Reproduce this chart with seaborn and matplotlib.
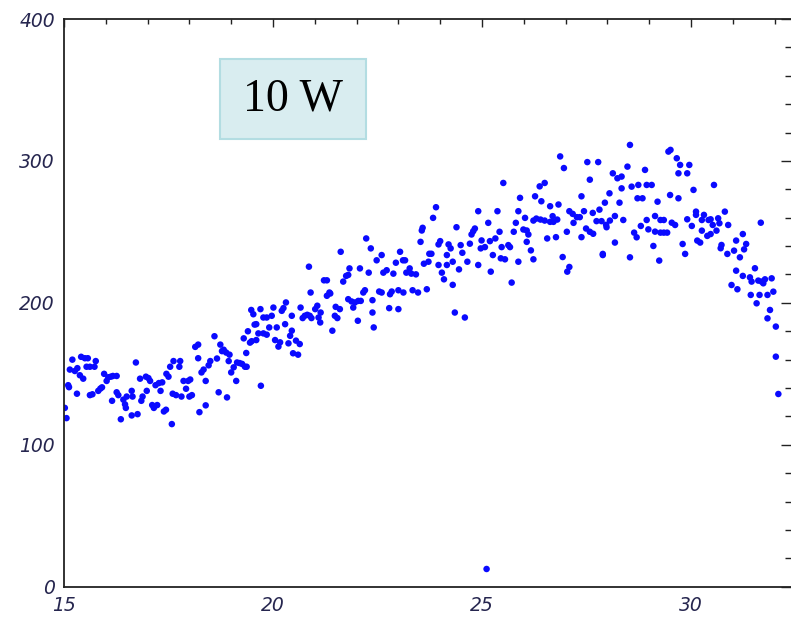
import numpy as np
import pandas as pd
import seaborn as sns
import matplotlib
matplotlib.use("Agg")
from matplotlib import pyplot as plt
from matplotlib.patches import Rectangle
from matplotlib.ticker import MultipleLocator

# readings, grouped by stretch of the x range
seg1_x = [15.02, 15.06, 15.10, 15.12, 15.20, 15.14, 15.26, 15.32, 15.38, 15.46,
          15.31, 15.41, 15.50, 15.57, 15.54, 15.62, 15.73, 15.76, 15.62, 15.68,
          15.82, 15.91, 15.87, 15.96, 16.02, 16.06, 16.12, 16.17, 16.26, 16.26,
          16.30, 16.15, 16.42, 16.46, 16.48, 16.50, 16.62, 16.64, 16.36, 16.62,
          16.76, 16.72, 16.82, 16.88, 16.85, 16.96, 17.02, 17.06, 16.98, 17.11,
          17.15, 17.23, 17.19, 17.27, 17.35, 17.31, 17.39, 17.44, 17.45, 17.50,
          17.54, 17.62, 17.60, 17.68, 17.58, 17.78, 17.81, 17.76, 17.86, 17.92,
          17.97, 18.02, 18.00, 18.06, 18.14, 18.21, 18.21, 18.24, 18.39, 18.29,
          18.34, 18.39, 18.46, 18.50, 18.60, 18.66, 18.70, 18.74, 18.78, 18.82,
          18.88, 18.94, 18.96, 18.90, 19.00, 19.06, 19.12, 19.14, 19.20, 19.26,
          19.33, 19.37, 19.30, 19.36, 19.40, 19.48, 19.53, 19.56, 19.45, 19.49,
          19.71]
seg1_y = [126, 118.8, 142, 140.6, 160, 153, 152, 154, 149, 146.6,
          136, 162, 161, 161, 155, 155, 155, 159, 135, 135.6,
          138, 140.5, 139.6, 150, 145, 147.6, 148, 148.5, 148.5, 137,
          135, 131, 131.8, 128.5, 126, 134, 138, 134, 118, 120.7,
          121.6, 158, 146.6, 134, 131, 148, 147, 145, 138, 128,
          126, 128, 142, 143.5, 144, 138, 123.5, 124.7, 150, 148,
          155, 159, 136, 135, 114.6, 159, 134, 155, 145, 139.5,
          145, 146, 134, 135, 169, 170.6, 161, 123, 127.8, 151,
          153, 145, 156, 159, 176.5, 160.8, 137, 170.6, 166, 167,
          165, 159, 163.5, 133.4, 151, 154.6, 145, 158, 157.6, 157,
          155, 155, 175, 164.7, 180, 195, 192, 184.7, 172, 173,
          141.6]

seg2_x = [19.70, 19.77, 19.85, 19.97, 20.01, 20.21, 20.25, 20.31, 19.60, 19.91,
          20.09, 20.29, 20.45, 20.45, 19.65, 19.77, 19.85, 19.60, 20.05, 20.17,
          20.13, 20.37, 20.41, 20.55, 20.64, 20.48, 20.60, 20.66, 20.71, 20.76,
          20.82, 20.88, 20.92, 21.01, 21.06, 21.09, 21.14, 21.13, 20.90, 20.86,
          21.22, 21.29, 21.29, 21.35, 21.37, 21.42, 21.50, 21.48, 21.54, 21.60,
          21.62, 21.68, 21.75, 21.80, 21.83, 21.80, 21.88, 21.92, 21.96, 22.03,
          22.04, 22.10, 22.08, 22.16, 22.20, 22.23, 22.29, 22.34, 22.38, 22.38,
          22.41, 22.48, 22.54, 22.60, 22.60, 22.64, 22.72, 22.78, 22.80, 22.84,
          22.88, 22.94, 23.00, 23.00, 23.04, 23.11, 23.16, 23.12, 23.19, 23.27,
          23.31, 23.34, 23.42, 23.47, 23.53, 23.58, 23.56, 23.61, 23.68, 23.72,
          23.74]
seg2_y = [195.6, 189.7, 189.7, 190.9, 196.7, 194.4, 196.3, 200.3, 185, 182.7,
          182.7, 185, 190.9, 180.4, 178.5, 178.5, 177.6, 173.8, 173.8, 172.2,
          169.2, 171.5, 176.8, 173.4, 171, 164.5, 163.5, 196.7, 189.3, 190.9,
          191.6, 190.9, 189.3, 195.6, 198, 189.7, 193.2, 186.2, 207.3, 225.5,
          215.9, 215.9, 205, 207.3, 206.6, 180.4, 197.2, 190.9, 189.3, 195.6,
          236, 215, 219, 219.7, 224.3, 202.6, 201, 196.7, 200.3, 187.4,
          201.4, 201.4, 224.3, 207.3, 208.9, 245.4, 221.3, 238.4, 201.9, 193.2,
          182.7, 230, 208, 233.7, 207.3, 221.3, 223, 196.3, 206.1, 208,
          220.6, 228.3, 208.9, 195.6, 236, 230, 230, 207.3, 221.3, 224.3,
          220.6, 208.9, 220.1, 207.3, 243, 252.9, 251, 227.6, 209.6, 229,
          234.6]

seg3_x = [26.87, 26.96, 27.52, 27.78, 27.58, 25.51, 26.38, 26.50, 25.91, 26.27,
          26.42, 26.63, 26.83, 27.38, 23.90, 23.83, 24.91, 25.37, 25.87, 26.03,
          25.81, 25.15, 24.39, 24.83, 24.79, 24.75, 25.42, 25.76, 25.99, 26.07,
          26.11, 26.23, 26.30, 26.40, 26.50, 26.63, 26.69, 26.71, 26.80, 27.09,
          27.17, 27.27, 27.34, 27.44, 27.65, 27.81, 27.74, 27.86, 27.19, 27.03,
          27.49, 27.58, 27.66, 27.38, 26.77, 26.56, 24.00, 23.96, 24.20, 24.25,
          24.49, 24.53, 24.71, 24.99, 24.97, 25.07, 25.19, 25.32, 25.26, 25.45,
          25.55, 25.47, 25.63, 25.67, 25.87, 26.07, 26.17, 26.23, 26.93, 27.09,
          27.04, 27.89, 23.79, 24.16, 24.30, 24.45, 24.65, 24.91, 25.21, 25.71,
          24.16, 24.04, 24.09, 24.30, 23.96, 24.35, 24.59, 25.11]
seg3_y = [303.2, 295, 299.2, 299.2, 286.8, 284.5, 282.1, 284.5, 274, 275.1,
          271.6, 268.1, 269.3, 275.1, 267.4, 259.9, 264.6, 264.6, 264.6, 259.9,
          256.4, 256.4, 253.3, 252.4, 250.5, 248.2, 250.1, 250.1, 251.7, 251,
          248.2, 258, 259.4, 258.7, 258, 257.1, 261.1, 257.1, 258.7, 264.6,
          262.7, 260.4, 260.4, 264.6, 263.4, 265.7, 257.6, 257.6, 256.4, 250.1,
          252.4, 250.1, 248.7, 246.3, 246.3, 245.4, 243.5, 241.2, 241.2, 238.4,
          240.7, 235.3, 241.7, 244, 238.4, 239.3, 243.5, 245.4, 233.7, 231.4,
          230.7, 239.3, 240.7, 239.3, 229, 243, 237, 230.7, 232.3, 225.3,
          222, 233.7, 234.6, 233.7, 229, 223.6, 229, 226.7, 222, 214.3,
          226.7, 221.3, 216.6, 212.7, 226.7, 193.2, 189.7, 12.5]

seg4_x = [28.54, 29.46, 29.51, 29.66, 29.74, 29.96, 29.70, 29.91, 28.48, 28.90,
          28.13, 28.24, 28.34, 28.34, 28.58, 28.74, 28.94, 29.06, 28.72, 28.84,
          29.20, 29.50, 29.70, 30.06, 30.55, 28.05, 27.94, 28.29, 28.18, 28.06,
          27.97, 27.98, 28.38, 28.80, 28.94, 29.14, 29.27, 29.35, 29.54, 29.62,
          28.64, 28.70, 28.98, 29.14, 29.27, 29.35, 29.43, 29.10, 28.18, 27.89,
          28.54, 29.24, 29.80, 29.86, 29.91, 30.02, 30.12, 30.12, 30.31, 30.26,
          30.42, 30.47, 30.52, 30.65, 30.68, 30.61, 30.89, 30.81, 30.26, 30.39,
          30.47, 30.15, 30.22, 30.73, 30.71, 30.87, 31.03, 31.08, 31.24, 31.32,
          31.27, 31.17, 31.67, 31.08, 31.24, 30.97, 31.11, 31.53, 31.41, 31.45,
          31.61, 31.69, 31.77, 31.93, 31.73, 31.43, 31.64, 31.83, 31.97, 31.57,
          31.89, 31.83, 32.03, 32.03, 32.09]
seg4_y = [311.3, 306.6, 307.8, 301.9, 297.2, 297.2, 291.3, 291.3, 296, 293.7,
          291.3, 287.8, 289, 280.7, 281.9, 283.1, 283.1, 283.1, 273.7, 273.7,
          271.3, 276, 273.7, 279.6, 283.1, 277.2, 270.6, 270.6, 261.2, 258,
          255, 253.3, 258.4, 254.2, 258.4, 261.2, 258.4, 258.4, 256.5, 254.9,
          249.5, 246.2, 251.8, 250.2, 249.5, 249.5, 249.5, 240.1, 242.5, 234.5,
          232.1, 229.8, 241.5, 234.5, 258.9, 254.2, 264.3, 262, 262, 258.4,
          258.4, 258.9, 254.9, 259.6, 256.1, 250.9, 254.9, 264.3, 250.9, 247.2,
          248.5, 243.9, 242.5, 240.8, 238.5, 234.5, 236.8, 243.9, 248.5, 241.5,
          237.7, 232.1, 256.5, 222.7, 219, 212.6, 209.6, 224.4, 218, 215,
          215.7, 215, 216.6, 217.3, 213.8, 205.6, 205.6, 205.6, 207.9, 199.7,
          195, 189.1, 183.3, 162.1, 135.8]

label_text = "10 W"

df = pd.DataFrame({
    "x": seg1_x + seg2_x + seg3_x + seg4_x,
    "y": seg1_y + seg2_y + seg3_y + seg4_y,
})

sns.set_style("white")
plt.rcParams["font.family"] = ["DejaVu Sans"]

fig = plt.figure(figsize=(7.91, 6.18), dpi=100)
# right spine sits just past the picture edge, as in the source crop
ax = fig.add_axes([0.0809, 0.0506, 0.9216, 0.9186])

sns.scatterplot(data=df, x="x", y="y", ax=ax, color="#0a0aff",
                s=22, linewidth=0, edgecolor="none", legend=False)

ax.set_xlim(15, 32.44)
ax.set_ylim(0, 400)
ax.set_xlabel("")
ax.set_ylabel("")

ax.xaxis.set_major_locator(MultipleLocator(5))
ax.xaxis.set_minor_locator(MultipleLocator(1))
ax.yaxis.set_major_locator(MultipleLocator(100))
ax.yaxis.set_minor_locator(MultipleLocator(20))

for side in ["left", "right", "top", "bottom"]:
    ax.spines[side].set_visible(True)
    ax.spines[side].set_color("#222222")
    ax.spines[side].set_linewidth(1.3)

ax.tick_params(axis="both", which="both", direction="in", color="#222222",
               width=1.0, top=True, right=True, labelcolor="#26264f",
               labelsize=13.5)
ax.tick_params(axis="x", which="major", length=6, pad=7)
ax.tick_params(axis="x", which="minor", length=3.8)
ax.tick_params(axis="y", which="major", length=8.5, pad=6.5)
ax.tick_params(axis="y", which="minor", length=5.8)
for lab in ax.get_xticklabels() + ax.get_yticklabels():
    lab.set_fontstyle("italic")

ax.add_patch(Rectangle((0.214, 0.788), 0.2, 0.141, transform=ax.transAxes,
                       facecolor="#d9edf0", edgecolor="#b3dde2", linewidth=1.5,
                       zorder=3))
ax.text(0.314, 0.8585, label_text, transform=ax.transAxes, ha="center",
        va="center", fontsize=33, family=["Liberation Serif", "DejaVu Serif"],
        color="black", zorder=4)

fig.savefig("out.png", dpi=100)
